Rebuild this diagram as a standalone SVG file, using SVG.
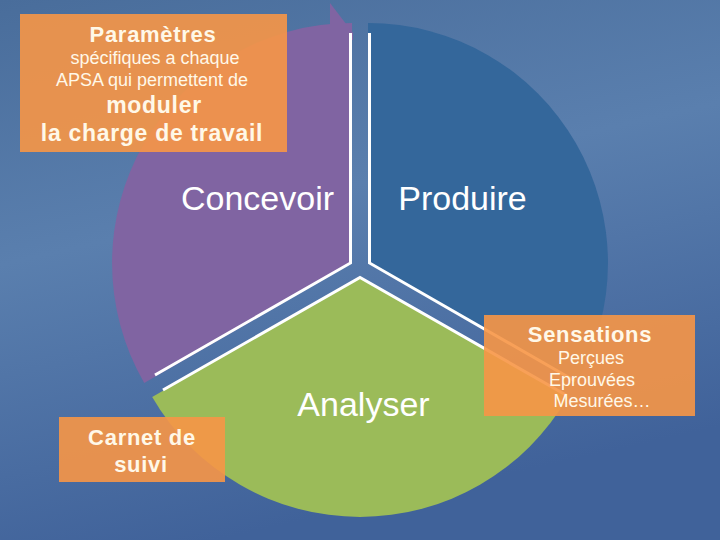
<svg xmlns="http://www.w3.org/2000/svg" width="720" height="540" viewBox="0 0 720 540">
  <defs>
    <linearGradient id="bg" x1="0" y1="0" x2="0.3" y2="1">
      <stop offset="0" stop-color="#496d9b"/>
      <stop offset="0.45" stop-color="#5a7fae"/>
      <stop offset="1" stop-color="#40629a"/>
    </linearGradient>
    <style>
      .edge { fill: none; stroke: #ffffff; stroke-width: 3; stroke-linejoin: miter; }
      .box { fill: #f79646; fill-opacity: 0.9; }
      .bt { font-family: "Liberation Sans", Arial, sans-serif; fill: #fff8e8; text-anchor: middle; }
      .b { font-weight: bold; font-size: 22px; letter-spacing: 0.7px; }
      .s { font-size: 18px; }
      .lbl { font-family: "Liberation Sans", Arial, sans-serif; fill: #ffffff; font-size: 34px; text-anchor: middle; }
    </style>
  </defs>
  <rect width="720" height="540" fill="url(#bg)"/>

  <g id="concevoir">
    <path d="M352,263 L352,23 A240,240 0 0 0 144.2,383 Z" fill="#8064a2"/>
    <polygon points="330,3 353,33 353,40 330,40" fill="#8064a2"/>
    <text class="lbl" x="257.5" y="210">Concevoir</text>
  </g>
  <g id="produire">
    <path d="M368,263 L368,23 A240,240 0 0 1 575.8,383 Z" fill="#34679b"/>
    <text class="lbl" x="462.5" y="210">Produire</text>
  </g>
  <g id="analyser">
    <path d="M360,277 L567.8,397 A240,240 0 0 1 152.2,397 Z" fill="#9bbb59"/>
    <text class="lbl" x="363.5" y="416">Analyser</text>
  </g>

  <g id="separators">
    <polyline class="edge" points="350.5,33 350.5,263 155,375"/>
    <polyline class="edge" points="369.5,33 369.5,263 575,381"/>
    <polyline class="edge" points="163,390 360,277.5 566,395"/>
  </g>

  <g id="parametres">
    <rect class="box" x="20" y="14" width="267" height="138"/>
    <text class="bt b" x="153" y="42">Paramètres</text>
    <text class="bt s" x="155" y="64">spécifiques a chaque</text>
    <text class="bt s" x="152" y="86">APSA qui permettent de</text>
    <text class="bt b" x="154" y="113" style="font-size:23px">moduler</text>
    <text class="bt b" x="152" y="141" style="font-size:23px">la charge de travail</text>
  </g>

  <g id="carnet">
    <rect class="box" x="59" y="417" width="166" height="65"/>
    <text class="bt b" x="142" y="445">Carnet de</text>
    <text class="bt b" x="141" y="472">suivi</text>
  </g>

  <g id="sensations">
    <rect class="box" x="484" y="315" width="211" height="101"/>
    <text class="bt b" x="590" y="342">Sensations</text>
    <text class="bt s" x="591" y="364">Perçues</text>
    <text class="bt s" x="592" y="386">Eprouvées</text>
    <text class="bt s" x="602" y="407">Mesurées…</text>
  </g>
</svg>
